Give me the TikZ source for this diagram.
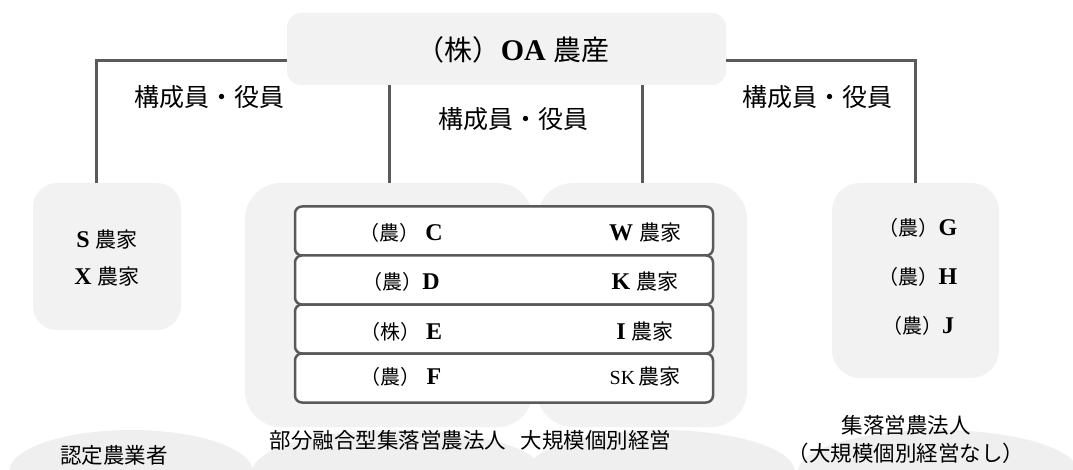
\documentclass[tikz,border=0pt]{standalone}
\usepackage{fontspec}
\setmainfont{Liberation Serif}
\newfontfamily\jp{Noto Sans CJK JP}
\usetikzlibrary{shapes.geometric}
\definecolor{boxgray}{RGB}{242,242,242}
\definecolor{ellgray}{RGB}{239,239,239}
\definecolor{linegray}{RGB}{90,90,90}
\newcommand\fs[1]{\fontsize{#1}{#1}\selectfont}
\begin{document}
\begin{tikzpicture}[x=1pt,y=-1pt,
  graybox/.style={fill=boxgray, draw=none, rounded corners=#1, inner sep=0pt},
  rowbox/.style={draw=linegray, line width=2.5pt, fill=white, rounded corners=7pt,
     minimum width=418pt, minimum height=49pt, inner sep=0pt},
  conn/.style={draw=linegray, line width=3pt},
  ell/.style={ellipse, fill=ellgray, draw=none, minimum height=84pt, inner sep=0pt},
  txt/.style={inner sep=0pt, text=black},
  lbl/.style={inner sep=0pt, text=black, font=\jp\fs{25}},
  blbl/.style={inner sep=0pt, text=black, font=\jp\fs{21.5}}]
\useasboundingbox (0,0) rectangle (1073,470);
\clip (0,0) rectangle (1073,470);
% bottom ellipses
\node[ell, minimum width=244pt] (e1) at (131,472) {};
\node[ell, minimum width=290pt] (e2) at (397,472) {};
\node[ell, minimum width=268pt] (e3) at (661,472) {};
\node[ell, minimum width=280pt] (e4) at (938,472) {};
% boxes
\node[graybox=14pt, minimum width=439pt, minimum height=72pt] (top) at (506.5,49) {};
\node[graybox=24pt, minimum width=148pt, minimum height=147pt] (sx) at (107,256.5) {};
\node[graybox=36pt, minimum width=288pt, minimum height=244pt] (ml) at (389,305) {};
\node[graybox=36pt, minimum width=210pt, minimum height=244pt] (mr) at (642,305) {};
\node[graybox=28pt, minimum width=167pt, minimum height=195pt] (rb) at (915.5,280.5) {};
% rows
\node[rowbox] (r1) at (504,231) {};
\node[rowbox] (r2) at (504,280) {};
\node[rowbox] (r3) at (504,329) {};
\node[rowbox] (r4) at (504,378) {};
% connectors
\draw[conn] ([yshift=-12pt]top.west) -| ([xshift=-11pt]sx.north);
\draw[conn] (top.south -| ml.north) -- (ml.north);
\draw[conn] (top.south -| mr.north) -- (mr.north);
\draw[conn] ([yshift=-12pt]top.east) -| (rb.north);
% texts
\node[txt] (toptxt) at (513,50) {\jp\fs{28}（株）\fs{30}\rmfamily\bfseries OA \jp\mdseries\fs{28}農産};
\node[lbl] (l1) at (209,97) {構成員・役員};
\node[lbl] (l2) at (513,119) {構成員・役員};
\node[lbl] (l3) at (817,97) {構成員・役員};
\node[txt] (s) at (107,240) {\fs{24}\bfseries S \jp\mdseries\fs{21}農家};
\node[txt] (x) at (107,277) {\fs{24}\bfseries X \jp\mdseries\fs{21}農家};
\node[txt] (c) at (401,233) {\jp\fs{20}（農）\rmfamily\bfseries\fs{24}\ C};
\node[txt] (d) at (401,282) {\jp\fs{20}（農）\rmfamily\bfseries\fs{24}D};
\node[txt] (e) at (401,332) {\jp\fs{20}（株）\rmfamily\bfseries\fs{24}\ E};
\node[txt] (f) at (401,377) {\jp\fs{20}（農）\rmfamily\bfseries\fs{24}\ F};
\node[txt] (w) at (645,233) {\fs{24}\bfseries W \jp\mdseries\fs{21}農家};
\node[txt] (k) at (645,282) {\fs{24}\bfseries K \jp\mdseries\fs{21}農家};
\node[txt] (i) at (645,332) {\fs{24}\bfseries I \jp\mdseries\fs{21}農家};
\node[txt] (sk) at (645,377) {\fs{20}SK\hspace{3pt}\jp\fs{21}農家};
\node[txt] (g) at (918,228) {\jp\fs{20}（農）\rmfamily\bfseries\fs{24}G};
\node[txt] (h) at (918,277) {\jp\fs{20}（農）\rmfamily\bfseries\fs{24}H};
\node[txt] (j) at (918,326) {\jp\fs{20}（農）\rmfamily\bfseries\fs{24}J};
\node[blbl] (b1) at (114,455) {認定農業者};
\node[blbl] (b2) at (388,440) {部分融合型集落営農法人};
\node[blbl] (b3) at (596,440) {大規模個別経営};
\node[blbl] (b4) at (906,425) {集落営農法人};
\node[blbl] (b5) at (906,453) {（大規模個別経営なし）};
\end{tikzpicture}
\end{document}
